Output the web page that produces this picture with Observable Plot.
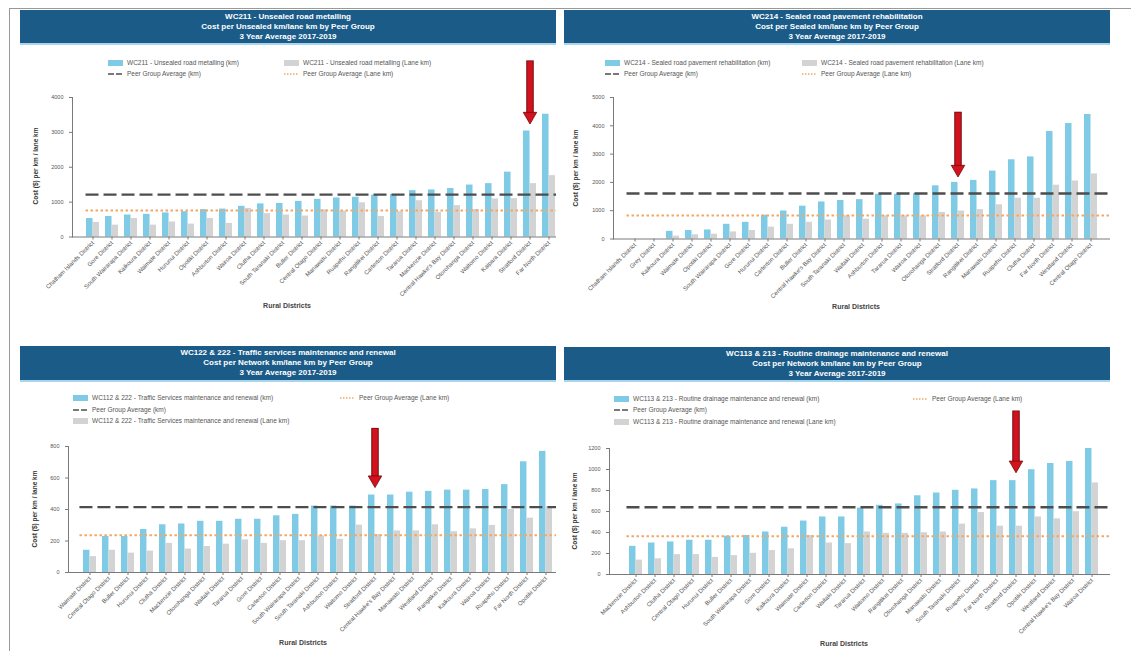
<!DOCTYPE html>
<html><head><meta charset="utf-8">
<script src="https://cdn.jsdelivr.net/npm/d3@7"></script>
<script src="https://cdn.jsdelivr.net/npm/@observablehq/plot@0.6"></script>
<style>
body{margin:0;background:#fff;font-family:Arial,"Liberation Sans",sans-serif;}
#root{position:relative;width:1131px;height:651px;overflow:hidden;background:#fff;}
.hdr{position:absolute;background:#1b5b88;color:#fff;font-weight:bold;font-size:8px;line-height:10px;text-align:center;box-sizing:border-box;padding-top:2px;border-bottom:2px solid #a9d6ee;}
.leg{position:absolute;font-size:6.5px;color:#555;white-space:nowrap;line-height:8px;transform:translateY(-50%);display:flex;align-items:center;}
.leg svg{margin-right:4px;}
.ylab{position:absolute;font-size:6.5px;font-weight:bold;color:#333;transform:translate(-50%,-50%) rotate(-90deg);white-space:nowrap;}
.xlab{position:absolute;font-size:7px;font-weight:bold;color:#444;transform:translate(-50%,-50%);white-space:nowrap;}
.pl{position:absolute;}
.frameL{position:absolute;left:9px;top:8px;width:1px;height:643px;background:#999;}
.frameT{position:absolute;left:9px;top:8px;width:1122px;height:1px;background:#999;}
</style></head>
<body><div id="root"><div class="frameL"></div><div class="frameT"></div></div>
<script>
// ---------- DATA ----------
const wc211Districts = ["Chatham Islands District","Gore District","South Wairarapa District","Kaikoura District","Waimate District","Hurunui District","Opotiki District","Ashburton District","Wairoa District","Clutha District","South Taranaki District","Buller District","Central Otago District","Manawatu District","Ruapehu District","Rangitikei District","Carterton District","Tararua District","Mackenzie District","Central Hawke's Bay District","Otorohanga District","Waitomo District","Kaipara District","Stratford District","Far North District"];
const wc211Km =   [530,590,630,650,690,725,785,800,880,950,960,1020,1080,1120,1140,1200,1220,1330,1350,1390,1490,1530,1860,3040,3520];
const wc211Lane = [420,340,530,340,430,370,530,390,820,670,630,600,780,740,980,590,725,1040,705,900,790,1090,1100,1530,1760];
const wc211PeerKm = 1215, wc211PeerLane = 760;
const wc211Ticks = [0,1000,2000,3000,4000];

const wc214Districts = ["Chatham Islands District","Grey District","Kaikoura District","Waimate District","Opotiki District","South Wairarapa District","Gore District","Hurunui District","Carterton District","Buller District","Central Hawke's Bay District","South Taranaki District","Waitaki District","Ashburton District","Tararua District","Wairoa District","Otorohanga District","Stratford District","Rangitikei District","Manawatu District","Ruapehu District","Clutha District","Far North District","Westland District","Central Otago District"];
const wc214Km =   [0,0,270,300,320,520,590,840,990,1160,1310,1360,1390,1580,1580,1610,1880,2000,2070,2400,2800,2900,3800,4080,4400];
const wc214Lane = [0,0,100,150,170,250,300,420,520,590,670,820,700,820,820,820,940,990,1040,1210,1440,1440,1900,2050,2300];
const wc214PeerKm = 1610, wc214PeerLane = 830;
const wc214Ticks = [0,1000,2000,3000,4000,5000];

const wc122Districts = ["Waimate District","Central Otago District","Buller District","Hurunui District","Clutha District","Mackenzie District","Otorohanga District","Waitaki District","Tararua District","Gore District","Carterton District","South Wairarapa District","South Taranaki District","Ashburton District","Waitomo District","Stratford District","Central Hawke's Bay District","Manawatu District","Westland District","Rangitikei District","Kaikoura District","Wairoa District","Ruapehu District","Far North District","Opotiki District"];
const wc122Km =   [141,229,229,273,303,308,325,325,338,338,360,369,422,422,422,492,492,510,515,523,523,527,558,703,769];
const wc122Lane = [101,141,123,136,185,149,165,180,207,185,202,202,233,211,301,240,264,264,303,259,277,299,400,345,418];
const wc122PeerKm = 415, wc122PeerLane = 237;
const wc122Ticks = [0,200,400,600,800];

const wc113Districts = ["Mackenzie District","Ashburton District","Clutha District","Central Otago District","Hurunui District","Buller District","South Wairarapa District","Gore District","Kaikoura District","Waimate District","Carterton District","Waitaki District","Tararua District","Waitomo District","Rangitikei District","Otorohanga District","Manawatu District","South Taranaki District","Ruapehu District","Far North District","Stratford District","Opotiki District","Westland District","Central Hawke's Bay District","Wairoa District"];
const wc113Km =   [268,300,310,326,326,365,372,405,450,509,548,548,633,659,672,750,776,802,815,894,894,998,1057,1076,1200];
const wc113Lane = [137,150,189,189,163,180,202,228,245,372,300,294,405,392,392,398,405,480,590,460,460,548,530,598,872];
const wc113PeerKm = 640, wc113PeerLane = 365;
const wc113Ticks = [0,200,400,600,800,1000,1200];

const focusDistrict = "Stratford District";
const arrowTL = {top: 5050, tip: 3240};
const arrowTR = {top: 4480, tip: 2190};
const arrowBL = {top: 915, tip: 539};
const arrowBR = {top: 1557, tip: 969};

// ---------- STYLE ----------
const BLUE = "#7fcbe6", GRAY = "#d3d3d3", DARK = "#4d4d4d", ORANGE = "#f2a766", RED = "#d4121e", REDDARK = "#6e0a0a";
const PAD = 0.32;
const root = document.getElementById("root");

function el(cls, style, html) {
  const d = document.createElement("div");
  d.className = cls;
  Object.assign(d.style, style);
  d.innerHTML = html;
  root.appendChild(d);
  return d;
}
function swatch(kind) {
  if (kind === "blue" || kind === "gray")
    return `<svg width="15" height="6"><rect width="15" height="6" fill="${kind === "blue" ? BLUE : GRAY}"/></svg>`;
  if (kind === "dash")
    return `<svg width="15" height="6"><line x1="0" x2="15" y1="3" y2="3" stroke="${DARK}" stroke-width="1.5" stroke-dasharray="6,2"/></svg>`;
  return `<svg width="15" height="6"><line x1="0" x2="15" y1="3" y2="3" stroke="${ORANGE}" stroke-width="1.5" stroke-dasharray="1.5,1.5"/></svg>`;
}
function legendItem(x, y, kind, text) {
  el("leg", {left: x + "px", top: y + "px"}, swatch(kind) + `<span>${text}</span>`);
}

function panel(cfg) {
  const {districts, km, lane, peerKm, peerLane, yMax, yTicks, arrow, g, title, legend} = cfg;
  el("hdr", {left: g.left + "px", top: g.hTop + "px", width: (g.right - g.left) + "px", height: g.hH + "px"}, title.join("<br>"));
  legend.forEach(([x, y, k, t]) => legendItem(x, y, k, t));
  el("ylab", {left: g.ylx + "px", top: (g.yTop + g.yBase) / 2 + "px"}, "Cost ($) per km / lane km");
  el("xlab", {left: g.xlx + "px", top: g.xly + "px"}, "Rural Districts");

  const data = districts.map((d, i) => ({district: d, km: km[i], lane: lane[i]}));
  const n = districts.length;
  const step = (g.cN - g.c0) / (n - 1);
  const bw = step * (1 - PAD);
  const svgTop = g.yTop - 14;
  const height = Math.round(g.yBase - svgTop + 72);
  const width = g.right - g.left;
  const mt = g.yTop - svgTop, mb = height - (g.yBase - svgTop);
  const ml = g.axisX - g.left;
  const arrows = [{district: focusDistrict, ...arrow}];
  const chart = Plot.plot({
    width, height, marginLeft: ml, marginRight: 0, marginTop: mt, marginBottom: mb,
    style: {fontFamily: "Arial, 'Liberation Sans', sans-serif", background: "transparent", overflow: "visible"},
    x: {type: "band", domain: districts, range: [g.c0 - bw / 2 - g.left, g.cN + bw / 2 - g.left], paddingInner: PAD, paddingOuter: 0, axis: null},
    y: {domain: [0, yMax], axis: null},
    marks: [
      Plot.barY(data, {x: "district", y: "km", fill: BLUE, insetRight: bw / 2}),
      Plot.barY(data, {x: "district", y: "lane", fill: GRAY, insetLeft: bw / 2}),
      Plot.ruleY([peerKm], {stroke: DARK, strokeWidth: 2.4, strokeDasharray: "13,5", insetLeft: g.c0 - bw / 2 - g.axisX}),
      Plot.ruleY([peerLane], {stroke: ORANGE, strokeWidth: 2, strokeDasharray: "2.5,2.5", insetLeft: g.c0 - bw / 2 - g.axisX}),
      Plot.ruleY([0], {stroke: "#7a7a7a"}),
      Plot.frame({anchor: "left", stroke: "#7a7a7a"}),
      Plot.axisY({ticks: yTicks, tickSize: 3, tickFormat: d3.format("d"), fontSize: 5.5, fill: "#555", stroke: "#7a7a7a", label: null}),
      Plot.axisX({tickRotate: -45, tickSize: 3, fontSize: 6, fill: "#555", stroke: "#7a7a7a", label: null, tickPadding: 2}),
      Plot.ruleX(arrows, {x: "district", y1: "top", y2: "tip", insetBottom: 9, stroke: REDDARK, strokeWidth: 7.5}),
      Plot.ruleX(arrows, {x: "district", y1: "top", y2: "tip", insetBottom: 9, insetTop: 0.8, stroke: RED, strokeWidth: 5.5}),
      Plot.dot(arrows, {x: "district", y: "tip", symbol: "triangle", rotate: 180, r: 5, dy: -7.8, fill: RED, stroke: REDDARK, strokeWidth: 0.8})
    ]
  });
  chart.classList.add("pl");
  chart.style.left = g.left + "px";
  chart.style.top = svgTop + "px";
  root.appendChild(chart);
}

panel({
  districts: wc211Districts, km: wc211Km, lane: wc211Lane, peerKm: wc211PeerKm, peerLane: wc211PeerLane,
  yMax: 4000, yTicks: wc211Ticks, arrow: arrowTL,
  g: {left: 20, right: 556, hTop: 10, hH: 35, axisX: 72, yTop: 96.5, yBase: 236, c0: 92, cN: 549, ylx: 35, xlx: 287, xly: 305},
  title: ["WC211 - Unsealed road metalling", "Cost per Unsealed km/lane km by Peer Group", "3 Year Average 2017-2019"],
  legend: [[108, 63, "blue", "WC211 - Unsealed road metalling (km)"], [284, 63, "gray", "WC211 - Unsealed road metalling (Lane km)"],
           [108, 74, "dash", "Peer Group Average (km)"], [284, 74, "dot", "Peer Group Average (Lane km)"]]
});
panel({
  districts: wc214Districts, km: wc214Km, lane: wc214Lane, peerKm: wc214PeerKm, peerLane: wc214PeerLane,
  yMax: 5000, yTicks: wc214Ticks, arrow: arrowTR,
  g: {left: 564, right: 1110, hTop: 10, hH: 35, axisX: 613, yTop: 97, yBase: 238.5, c0: 633, cN: 1092, ylx: 575, xlx: 856, xly: 306},
  title: ["WC214 - Sealed road pavement rehabilitation", "Cost per Sealed km/lane km by Peer Group", "3 Year Average 2017-2019"],
  legend: [[605, 63, "blue", "WC214 - Sealed road pavement rehabilitation (km)"], [802, 63, "gray", "WC214 - Sealed road pavement rehabilitation (Lane km)"],
           [605, 74, "dash", "Peer Group Average (km)"], [802, 74, "dot", "Peer Group Average (Lane km)"]]
});
panel({
  districts: wc122Districts, km: wc122Km, lane: wc122Lane, peerKm: wc122PeerKm, peerLane: wc122PeerLane,
  yMax: 800, yTicks: wc122Ticks, arrow: arrowBL,
  g: {left: 20, right: 556, hTop: 346, hH: 36, axisX: 68, yTop: 446, yBase: 572, c0: 86, cN: 549, ylx: 34, xlx: 303, xly: 642},
  title: ["WC122 & 222 - Traffic services maintenance and renewal", "Cost per Network km/lane km by Peer Group", "3 Year Average 2017-2019"],
  legend: [[73, 398, "blue", "WC112 &amp; 222 - Traffic Services maintenance and renewal (km)"], [340, 398, "dot", "Peer Group Average (Lane km)"],
           [73, 409.5, "dash", "Peer Group Average (km)"], [73, 421, "gray", "WC112 &amp; 222 - Traffic Services maintenance and renewal (Lane km)"]]
});
panel({
  districts: wc113Districts, km: wc113Km, lane: wc113Lane, peerKm: wc113PeerKm, peerLane: wc113PeerLane,
  yMax: 1200, yTicks: wc113Ticks, arrow: arrowBR,
  g: {left: 564, right: 1110, hTop: 347, hH: 35, axisX: 609, yTop: 448, yBase: 574, c0: 633, cN: 1093, ylx: 574, xlx: 844, xly: 643},
  title: ["WC113 & 213 - Routine drainage maintenance and renewal", "Cost per Network km/lane km by Peer Group", "3 Year Average 2017-2019"],
  legend: [[614, 398.5, "blue", "WC113 &amp; 213 - Routine drainage maintenance and renewal (km)"], [913, 398.5, "dot", "Peer Group Average (Lane km)"],
           [614, 410, "dash", "Peer Group Average (km)"], [614, 421.5, "gray", "WC113 &amp; 213 - Routine drainage maintenance and renewal (Lane km)"]]
});
</script>
</body></html>
